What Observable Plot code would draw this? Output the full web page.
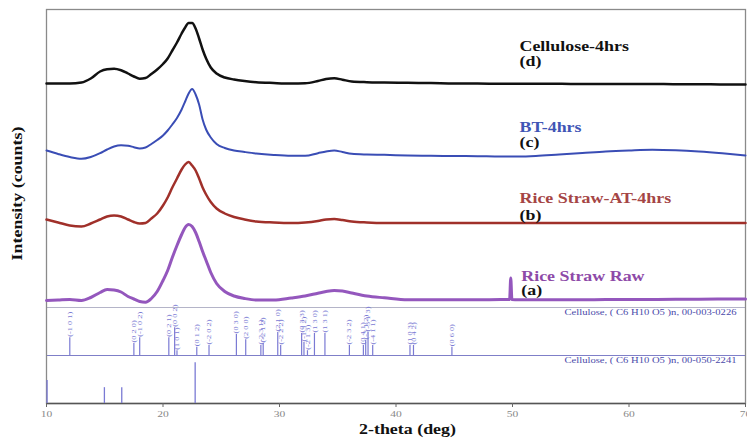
<!DOCTYPE html>
<html><head><meta charset="utf-8">
<script src="https://cdn.jsdelivr.net/npm/d3@7"></script>
<script src="https://cdn.jsdelivr.net/npm/@observablehq/plot@0.6"></script>
<style>body{margin:0;background:#fff} #chart svg{display:block}</style>
</head><body><div id="chart"></div>
<script>
// 2-theta sampling (deg)
const theta = [10,11,12,13,13.8,14.6,15.2,15.8,16.4,17.0,17.5,18.0,18.5,19.0,19.5,20.0,20.4,20.8,21.2,21.6,21.9,22.2,22.5,22.8,23.1,23.4,23.7,24.1,24.6,25.3,26.1,27.0,28.0,29.5,31.0,32.2,33.3,34.0,34.7,35.4,36.2,37.5,39,41,43,45,47,49,49.75,49.85,49.95,50.5,52,54,56,58,60,62,64,66,68,70];
// stacked intensities (a.u., offset)
const cellulose4 = [320,320,320,321,325,332,334.2,334.7,333.2,330,327,324.8,325.5,329.5,334,339.5,345,353,361,370,376,380.5,380.5,375,365,354,345,336,330,326,324,322.5,321.3,320.5,320,320.2,322.5,324.5,325.3,323.8,322,321.3,321,320.7,320.5,320,320,319.7,319.7,319.7,319.7,319.7,319.7,319.7,319.5,319.5,319.5,319.5,319.3,319.3,319,319];
const bt4 = [253,249.5,246.5,244.7,246.5,250.3,254,257,258.2,257.7,256.3,255,256,259.5,263.5,268,273,279,285.5,294,302,310,314.5,309,299,284,274,266,259.5,255.5,253,251.5,250,248.5,247.7,247.7,250.3,252,253,251.5,249.7,249,248.7,248,247.7,247.5,247.3,247,247,247,247,247,247.5,249,250.5,252,253,253.7,253.2,252,250.2,248];
const riceAT4 = [184,181,178,177,180,184,187,188,187,184,181.5,180,180.5,185,190,198,206,216,225,234,239,241.5,238,233,225,216,209,201.5,195,190,186.5,184,182,181,180.5,181,182.5,184,184.5,183.5,182,181,180.5,180.5,180.5,180.5,180.5,180.5,180.5,180.5,180.5,180.5,180.5,180.5,180.5,180.5,180.5,180.5,180.5,180.5,180.5,180.5];
const riceRaw = [103,103.5,104,103,106,111,114,113.5,111.5,107,104.5,102,101.3,105,112,123,133,146,158,169,176,179,177,171,162,152,143,131,120,112,107.5,105,103.5,103.5,105.5,107.5,110.3,112,113,112.5,110.5,107.5,105.7,103.7,103.7,103.7,103.7,104,104,125.5,104,103.7,103.7,103.7,103.7,104,104,104,104.2,104.3,104.5,104.5];

const seriesNames = ["Rice Straw Raw","Rice Straw-AT-4hrs","BT-4hrs","Cellulose-4hrs"];
const seriesTags = ["(a)","(b)","(c)","(d)"];
const labelTheta = [50.75,50.6,50.6,50.6];
const labelNameY = [123,201,272,353];
const labelTagY = [109,184,257,338];

// reference pattern 00-003-0226
const ref1Theta = [12.0,17.5,18.0,20.5,21.0,21.2,22.9,23.95,26.3,27.1,28.4,28.6,29.85,30.1,31.9,32.1,32.4,33.0,33.9,36.0,37.2,37.4,37.6,38.0,41.2,41.5,44.8];
const ref1Intensity = [37,25,37,37,58,10,17,21,44,33,21,25,48,21,46,27,10,46,46,21,21,31,48,21,21,21,17];
const ref1Hkl = ["(-1 0 1)","(0 2 0)","(-1 0 2)","(0 2 1)","(0 0 2)","(1 0 1)","(0 1 2)","(-2 0 2)","(0 3 0)","(2 0 0)","(-2 3 1)","(-2 1 2)","(2 1 0)","(-2 2 2)","(0 3 3)","(-1 3 2)","(-2 1 3)","(1 3 0)","(1 3 1)","(-2 3 2)","(0 4 1)","(-3 1 2)","(-3 1 3)","(-4 1 1)","(1 0 3)","(0 4 2)","(0 6 0)"];
// reference pattern 00-050-2241
const ref2Theta = [10.05,14.97,16.46,22.76];
const ref2Intensity = [48,33,33,85];
const refNames = ["Cellulose, ( C6 H10 O5 )n, 00-003-0226","Cellulose, ( C6 H10 O5 )n, 00-050-2241"];
const xTicks = [10,20,30,40,50,60,70];

// layout of the stacked stick panels (in y units)
const panel1Base = 48, panel1Top = 96, panel2Base = 0, stickScale = 0.48;

const colors = ["#9457bd","#a0302a","#3a4db5","#111111"];
const labelColors = ["#8e4aa8","#a54545","#3f55b5","#111111"];
const seriesData = [riceRaw, riceAT4, bt4, cellulose4].map(arr => theta.map((t,i)=>({t, v: arr[i]})));

const ref1 = ref1Theta.map((t,i)=>({t, i: ref1Intensity[i], hkl: ref1Hkl[i]}));
const ref2 = ref2Theta.map((t,i)=>({t, i: ref2Intensity[i]}));
const labels = seriesNames.map((n,k)=>({t: labelTheta[k], name: n, tag: seriesTags[k], yn: labelNameY[k], yt: labelTagY[k], c: labelColors[k]}));
const captions = refNames.map((n,k)=>({name: n, y: k === 0 ? panel1Top - 5 : panel1Base - 5}));

const stickColor = "#7a7ad4";

const svg = Plot.plot({
  width: 747, height: 441,
  marginLeft: 46, marginRight: 2, marginTop: 9, marginBottom: 38,
  style: {fontFamily: "'Liberation Serif', 'DejaVu Serif', serif", background: "#fff"},
  x: {domain: [10, 70]},
  y: {domain: [0, 394], axis: null},
  marks: [
    Plot.ruleY([panel1Top], {stroke: "#b4b4c8", strokeWidth: 1.2}),
    Plot.ruleY([panel1Base], {stroke: "#7f7fc8", strokeWidth: 1.2}),
    Plot.frame({stroke: "#8a8a8a", strokeWidth: 1.3}),
    Plot.ruleY([panel2Base], {stroke: "#555", strokeWidth: 1.5}),
    Plot.ruleX(ref1, {x: "t", y1: panel1Base, y2: d => panel1Base + d.i * stickScale, stroke: stickColor, strokeWidth: 1.2}),
    Plot.text(ref1, {x: "t", y: d => panel1Base + d.i * stickScale, text: "hkl", rotate: -90, textAnchor: "start", dy: -1, fontSize: 6.5, fill: stickColor}),
    Plot.ruleX(ref2, {x: "t", y1: panel2Base, y2: d => panel2Base + d.i * stickScale, stroke: stickColor, strokeWidth: 1.3}),
    Plot.text(captions, {frameAnchor: "right", dx: -9, y: "y", text: "name", textAnchor: "end", fontSize: 8.3, fill: "#4a4aaa"}),
    ...seriesData.map((d,k) => Plot.line(d, {x: "t", y: "v", stroke: colors[k], strokeWidth: k === 0 ? 3 : (k === 2 ? 2 : 2.5), curve: "monotone-x"})),
    Plot.text(labels, {x: "t", y: "yn", text: "name", fill: "c", textAnchor: "start", lineAnchor: "bottom", fontSize: 14, fontWeight: "bold"}),
    Plot.text(labels, {x: "t", y: "yt", text: "tag", fill: "#111", textAnchor: "start", lineAnchor: "bottom", fontSize: 14, fontWeight: "bold"}),
    Plot.axisX({ticks: xTicks, tickSize: 4, tickPadding: 3, fontSize: 9, color: "#888", label: null, stroke: "#666"}),
    Plot.text(["2-theta (deg)"], {text: d => d, frameAnchor: "bottom", textAnchor: "middle", dx: 11.5, dy: 30, lineAnchor: "bottom", fontSize: 14, fontWeight: "bold", fill: "#111"}),
    Plot.text(["Intensity (counts)"], {text: d => d, frameAnchor: "left", textAnchor: "middle", rotate: -90, dx: -29, dy: -13, fontSize: 14, fontWeight: "bold", fill: "#111"})
  ]
});
// the original figure's type is horizontally widened
svg.querySelectorAll("text").forEach(el => {
  const tr = el.getAttribute("transform");
  if (tr) el.setAttribute("transform", tr + " scale(1.28,1)");
});
document.getElementById("chart").appendChild(svg);
</script>
</body></html>
